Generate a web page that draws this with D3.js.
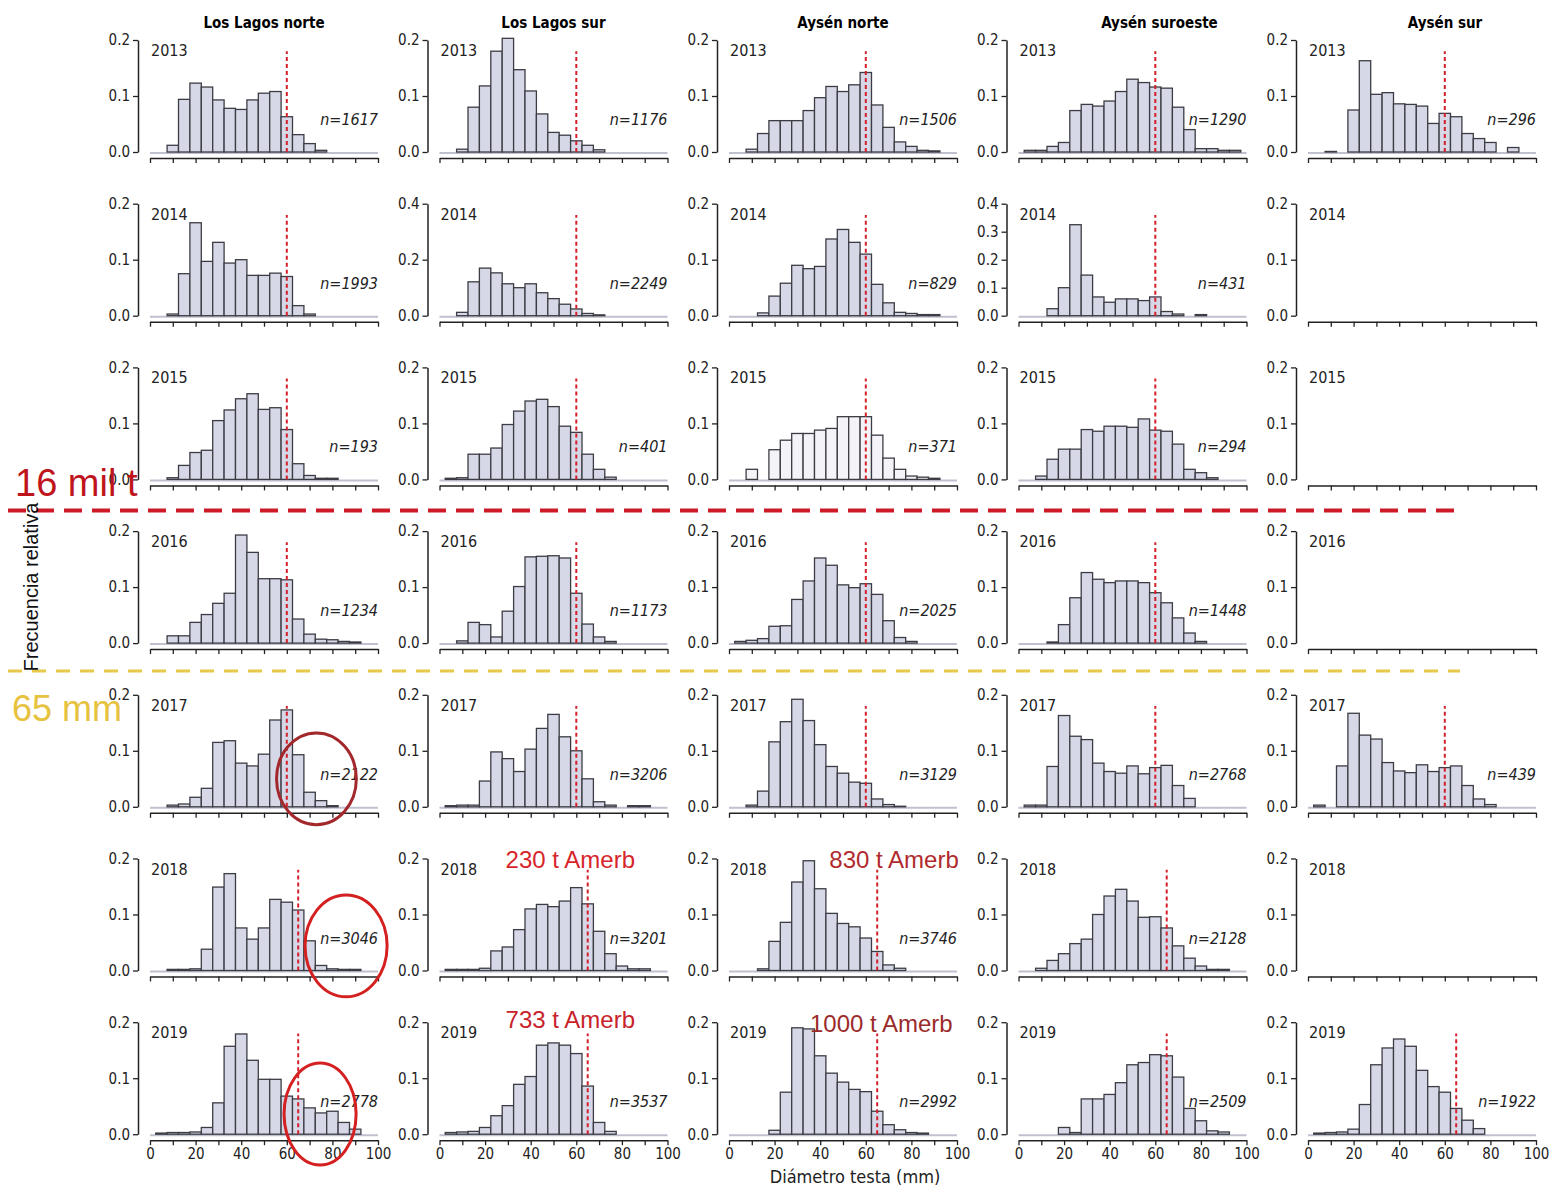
<!DOCTYPE html>
<html>
<head>
<meta charset="utf-8">
<script src="https://cdn.jsdelivr.net/npm/d3@7"></script>
<style>
  body { margin: 0; background: #fff; }
  text { font-family: "Liberation Sans Narrow", "DejaVu Sans Condensed", "DejaVu Sans", sans-serif; }
</style>
</head>
<body>
<script>
// Histogram stuff: bin mids in mm (5 mm bins)
var mids = d3.range(5, 100, 5);
var years = [2013, 2014, 2015, 2016, 2017, 2018, 2019];
var regions = ["Los Lagos norte", "Los Lagos sur", "Aysén norte", "Aysén suroeste", "Aysén sur"];

// relative frequencies, one row per year
var losLagosNorte = [
  [0,.012,.094,.123,.116,.093,.078,.076,.093,.105,.108,.063,.031,.015,.003,0,0,0,0],
  [0,.003,.075,.166,.097,.131,.094,.1,.072,.072,.076,.07,.018,.003,0,0,0,0,0],
  [0,.003,.025,.048,.052,.105,.124,.144,.153,.125,.128,.089,.028,.007,.002,.002,0,0,0],
  [0,.013,.013,.037,.051,.071,.089,.193,.162,.115,.115,.113,.043,.016,.007,.006,.003,.002,0],
  [0,.003,.005,.017,.033,.115,.118,.078,.073,.094,.155,.173,.093,.026,.011,.002,0,0,0],
  [0,.002,.002,.003,.038,.149,.173,.076,.056,.076,.127,.122,.108,.053,.009,.003,.002,.002,0],
  [.002,.003,.003,.004,.012,.056,.157,.179,.132,.098,.098,.068,.063,.047,.038,.041,.021,.009,0]
];
var losLagosSur = [
  [0,.005,.08,.118,.18,.203,.147,.109,.068,.035,.03,.02,.012,.004,0,0,0,0,0],
  [0,.012,.121,.17,.153,.114,.1,.114,.082,.061,.041,.024,.008,.003,0,0,0,0,0],
  [.002,.003,.045,.045,.056,.098,.122,.14,.143,.13,.095,.084,.045,.018,.004,0,0,0,0],
  [0,.004,.037,.033,.011,.057,.101,.154,.155,.156,.152,.089,.034,.011,.003,0,0,0,0],
  [.002,.003,.003,.046,.098,.086,.063,.103,.14,.165,.125,.1,.05,.009,.003,0,.002,.002,0],
  [.002,.002,.002,.004,.035,.042,.073,.11,.118,.114,.124,.148,.119,.07,.03,.008,.003,.003,0],
  [.003,.004,.005,.012,.033,.051,.089,.103,.159,.163,.159,.144,.086,.021,.005,0,0,0,0]
];
var aysenNorte = [
  [0,.005,.033,.056,.056,.056,.074,.097,.117,.108,.12,.142,.084,.044,.018,.01,.003,.002,0],
  [0,0,.005,.035,.058,.09,.084,.088,.137,.154,.131,.11,.056,.023,.006,.004,.002,.002,0],
  [0,.018,0,.053,.07,.082,.082,.088,.091,.112,.112,.112,.079,.038,.018,.006,.004,.002,0],
  [.003,.005,.008,.03,.031,.078,.111,.152,.139,.104,.099,.106,.087,.04,.01,.003,0,0,0],
  [0,.003,.028,.116,.152,.192,.154,.111,.072,.06,.044,.042,.014,.004,.001,0,0,0,0],
  [0,0,.003,.052,.086,.158,.196,.146,.102,.084,.078,.058,.034,.01,.004,0,0,0,0],
  [0,0,0,.007,.075,.19,.188,.14,.109,.093,.08,.076,.041,.017,.008,.003,.002,0,0]
];
var aysenSuroeste = [
  [.003,.003,.01,.017,.074,.085,.082,.091,.108,.13,.124,.116,.114,.08,.04,.006,.006,.003,.003],
  [0,0,.025,.1,.325,.145,.067,.048,.06,.06,.054,.067,.015,.006,0,.004,0,0,0],
  [0,.006,.036,.054,.054,.089,.086,.095,.095,.093,.108,.088,.086,.063,.018,.012,.003,0,0],
  [0,0,.002,.033,.081,.126,.114,.108,.111,.111,.108,.09,.072,.045,.018,.003,0,0,0],
  [.003,.003,.072,.163,.126,.12,.078,.063,.06,.073,.059,.07,.074,.038,.015,0,0,0,0],
  [0,.004,.018,.03,.048,.056,.1,.133,.145,.124,.095,.096,.076,.044,.022,.008,.002,.002,0],
  [0,0,0,.012,.003,.063,.063,.071,.092,.124,.128,.142,.14,.102,.046,.024,.006,.004,0]
];
var aysenSur = [
  [0,.001,0,.075,.163,.103,.106,.086,.085,.082,.051,.069,.063,.033,.024,.017,0,.008,0],
  null,
  null,
  null,
  [.003,0,.073,.167,.128,.121,.079,.064,.061,.075,.063,.07,.073,.038,.014,.004,0,0,0],
  null,
  [.002,.003,.004,.009,.053,.124,.154,.17,.157,.114,.085,.075,.046,.025,.01,0,0,0,0]
];

// sample sizes
var nLosLagosNorte = [1617, 1993, 193, 1234, 2122, 3046, 2778];
var nLosLagosSur = [1176, 2249, 401, 1173, 3206, 3201, 3537];
var nAysenNorte = [1506, 829, 371, 2025, 3129, 3746, 2992];
var nAysenSuroeste = [1290, 431, 294, 1448, 2768, 2128, 2509];
var nAysenSur = [296, null, null, null, 439, null, 1922];

// minimum legal size per year (mm)
var legalSize = [60, 60, 60, 60, 60, 65, 65];

// y tick values, with the two wider panels
var yTicks = [0, 0.1, 0.2];
var wideTicks = { "1-1": [0, 0.2, 0.4], "3-1": [0, 0.1, 0.2, 0.3, 0.4] };

// catch notes
var notes = [
  { text: "230 t Amerb", col: 1, row: 5, mm: 29, f: 0.183, color: "#d7262b" },
  { text: "830 t Amerb", col: 2, row: 5, mm: 44, f: 0.183, color: "#b02a2e" },
  { text: "733 t Amerb", col: 1, row: 6, mm: 29, f: 0.19, color: "#c8232a" },
  { text: "1000 t Amerb", col: 2, row: 6, mm: 35.5, f: 0.183, color: "#9b2b2b" }
];
// circled right tails (Los Lagos norte)
var circles = [
  { row: 4, mm: 73, f: 0.05, rmm: 17.5, rf: 0.082, color: "#a3282c" },
  { row: 5, mm: 86, f: 0.044, rmm: 18, rf: 0.091, color: "#d42020" },
  { row: 6, mm: 74.6, f: 0.036, rmm: 15.8, rf: 0.091, color: "#d42020" }
];

var freqs = [losLagosNorte, losLagosSur, aysenNorte, aysenSuroeste, aysenSur];
var sizes = [nLosLagosNorte, nLosLagosSur, nAysenNorte, nAysenSuroeste, nAysenSur];

// Chart stuff
var width = 1553,
    height = 1186;
var colStep = 289.5, rowStep = 163.7,
    panelW = 228, panelH = 112;
var titleShift = [0, 0, 0, 27, 23];

var svg = d3.select("body").append("svg")
    .attr("width", width)
    .attr("height", height);

function colX(c) { return 150 + c * colStep; }
function rowBase(r) { return 152 + r * rowStep; }

regions.forEach(function(region, c) {
  svg.append("text")
      .attr("x", colX(c) + panelW / 2 + titleShift[c])
      .attr("y", 28)
      .attr("text-anchor", "middle")
      .style("font-weight", "bold")
      .style("font-size", "15px")
      .text(region);

  years.forEach(function(year, r) {
    var vals = freqs[c][r];
    var ticks = wideTicks[c + "-" + r] || yTicks;
    var x = d3.scaleLinear().domain([0, 100]).range([colX(c), colX(c) + panelW]);
    var y = d3.scaleLinear().domain([0, d3.max(ticks)]).range([rowBase(r), rowBase(r) - panelH]);
    var top = rowBase(r) - panelH;
    var g = svg.append("g").attr("class", "panel");

    // y axis
    var ya = g.append("g")
        .attr("transform", "translate(" + (colX(c) - 12) + ",0)")
        .call(d3.axisLeft(y).tickValues(ticks).tickSize(5).tickSizeOuter(0)
          .tickFormat(d3.format(".1f")));
    // x axis, labels only on the last row
    var xa = g.append("g")
        .attr("transform", "translate(0," + (rowBase(r) + 6) + ")")
        .call(d3.axisBottom(x).tickValues(d3.range(0, 101, 10)).tickSize(5).tickSizeOuter(0)
          .tickFormat(function(d) { return (r === years.length - 1 && d % 20 === 0) ? d : ""; }));
    [ya, xa].forEach(function(a) {
      a.select(".domain").attr("stroke", "#222").attr("stroke-width", 1.5);
      a.selectAll(".tick line").attr("stroke", "#222").attr("stroke-width", 1.3);
      a.selectAll(".tick text").style("font-size", "15px").attr("fill", "#222");
    });

    g.append("text")
        .attr("x", colX(c) + 1)
        .attr("y", top + 16)
        .style("font-size", "16px")
        .attr("fill", "#222")
        .text(year);

    if (!vals) return;

    // light baseline under the bars
    g.append("line")
        .attr("x1", x(0)).attr("x2", x(100))
        .attr("y1", y(0) + 1).attr("y2", y(0) + 1)
        .attr("stroke", "#bfc1cf").attr("stroke-width", 2);

    g.selectAll("rect")
        .data(vals.map(function(v, i) { return { mid: mids[i], v: v }; })
          .filter(function(d) { return d.v > 0; }))
      .enter().append("rect")
        .attr("x", function(d) { return x(d.mid - 2.5); })
        .attr("width", function(d) { return x(d.mid + 2.5) - x(d.mid - 2.5); })
        .attr("y", function(d) { return y(d.v); })
        .attr("height", function(d) { return y(0) - y(d.v); })
        .attr("fill", (c === 2 && r === 2) ? "#f4f4f8" : "#d6d7e7")
        .attr("stroke", "#3c3c44")
        .attr("stroke-width", 1.3);

    // legal size line
    g.append("line")
        .attr("x1", x(legalSize[r])).attr("x2", x(legalSize[r]))
        .attr("y1", y(0)).attr("y2", rowBase(r) - 0.9 * panelH)
        .attr("stroke", "#d3202a")
        .attr("stroke-width", 2)
        .attr("stroke-dasharray", "4,3");

    g.append("text")
        .attr("x", x(100))
        .attr("y", rowBase(r) - 27)
        .attr("text-anchor", "end")
        .style("font-size", "16px")
        .style("font-style", "italic")
        .attr("fill", "#222")
        .text("n=" + sizes[c][r]);
  });
});

// Annotations
var xCol = function(c) { return d3.scaleLinear().domain([0, 100]).range([colX(c), colX(c) + panelW]); };
var yRow = function(r) { return d3.scaleLinear().domain([0, 0.2]).range([rowBase(r), rowBase(r) - panelH]); };

svg.append("g").selectAll("ellipse")
    .data(circles)
  .enter().append("ellipse")
    .attr("cx", function(d) { return xCol(0)(d.mm); })
    .attr("cy", function(d) { return yRow(d.row)(d.f); })
    .attr("rx", function(d) { return xCol(0)(d.rmm) - xCol(0)(0); })
    .attr("ry", function(d) { return yRow(d.row)(0) - yRow(d.row)(d.rf); })
    .attr("fill", "none")
    .attr("stroke", function(d) { return d.color; })
    .attr("stroke-width", 3);

svg.append("g").selectAll("text")
    .data(notes)
  .enter().append("text")
    .attr("x", function(d) { return xCol(d.col)(d.mm); })
    .attr("y", function(d) { return yRow(d.row)(d.f); })
    .style("font-family", "'Liberation Sans', Arial, sans-serif")
    .style("font-size", "24px")
    .attr("fill", function(d) { return d.color; })
    .text(function(d) { return d.text; });

// 16 mil t / 65 mm guide lines
var redY = rowBase(2) + 31,
    yellowY = rowBase(3) + 28;
svg.append("line")
    .attr("x1", 8).attr("x2", 1460).attr("y1", redY).attr("y2", redY)
    .attr("stroke", "#cc1a26").attr("stroke-width", 4).attr("stroke-dasharray", "18,10");
svg.append("line")
    .attr("x1", 8).attr("x2", 1460).attr("y1", yellowY).attr("y2", yellowY)
    .attr("stroke", "#e8c84a").attr("stroke-width", 3).attr("stroke-dasharray", "14,10");

svg.append("text")
    .attr("x", 15).attr("y", 496)
    .style("font-family", "'Liberation Sans', Arial, sans-serif")
    .style("font-size", "38px")
    .attr("fill", "#c0141c")
    .text("16 mil t");
svg.append("text")
    .attr("x", 12).attr("y", 721)
    .style("font-family", "'Liberation Sans', Arial, sans-serif")
    .style("font-size", "36px")
    .attr("fill", "#e6c23e")
    .text("65 mm");

// axis titles
svg.append("text")
    .attr("transform", "translate(38,587) rotate(-90)")
    .attr("text-anchor", "middle")
    .style("font-family", "'Liberation Sans', Arial, sans-serif")
    .style("font-size", "20px")
    .attr("fill", "#111")
    .text("Frecuencia relativa");
svg.append("text")
    .attr("x", 855).attr("y", 1183)
    .attr("text-anchor", "middle")
    .style("font-size", "18px")
    .attr("fill", "#222")
    .text("Diámetro testa (mm)");
</script>
</body>
</html>
